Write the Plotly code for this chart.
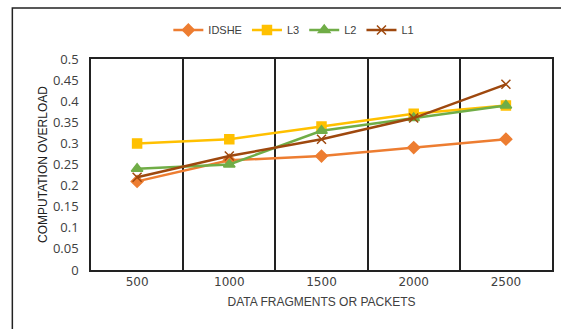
import plotly.graph_objects as go

# Data
packets = ["500", "1000", "1500", "2000", "2500"]
idshe = [0.21, 0.26, 0.27, 0.29, 0.31]
l3 = [0.30, 0.31, 0.34, 0.37, 0.39]
l2 = [0.24, 0.25, 0.33, 0.36, 0.39]
l1 = [0.22, 0.27, 0.31, 0.36, 0.44]

series = [
    ("IDSHE", idshe, "#ED7D31", "diamond", 9),
    ("L3", l3, "#FFC000", "square", 9),
    ("L2", l2, "#70AD47", "triangle-up", 10),
    ("L1", l1, "#9E480E", "x-thin-open", 9),
]

W, H = 561, 329
ML, MR, MT, MB = 91, 7, 59, 59
PW, PH = W - ML - MR, H - MT - MB

FONT = "Liberation Sans, Arial, sans-serif"

fig = go.Figure()
for name, vals, color, sym, size in series:
    fig.add_trace(go.Scatter(
        x=packets, y=vals, name=name, mode="lines+markers",
        line=dict(color=color, width=2.5),
        marker=dict(symbol=sym, size=size, color=color,
                    line=dict(color=color, width=1.5)),
    ))

# outer chart frame (extends past the right and bottom edges)
def px_to_paper_x(px):
    return (px - ML) / PW

def px_to_paper_y(py):
    return (H - MB - py) / PH

fig.add_shape(type="rect", xref="paper", yref="paper",
              x0=px_to_paper_x(12), x1=px_to_paper_x(575),
              y0=px_to_paper_y(345), y1=px_to_paper_y(8),
              line=dict(color="#222222", width=1.5), fillcolor="rgba(0,0,0,0)",
              layer="below")

fig.update_layout(
    width=W, height=H,
    margin=dict(l=ML, r=MR, t=MT, b=MB),
    paper_bgcolor="white", plot_bgcolor="white",
    font=dict(family=FONT, size=12, color="#404040"),
    showlegend=True,
    legend=dict(orientation="h", x=0.44, xanchor="center", y=px_to_paper_y(30),
                yanchor="middle", font=dict(size=11, color="#404040"),
                itemwidth=30, tracegroupgap=0),
    xaxis=dict(
        type="category", range=[-0.5, 4.5], tickson="boundaries", showgrid=True,
        gridcolor="#222222", gridwidth=1.5,
        showline=True, linecolor="#222222", linewidth=1.5, mirror=True,
        ticks="outside", ticklen=8, tickcolor="rgba(0,0,0,0)",
        tickfont=dict(family="DejaVu Sans, sans-serif", size=12, color="#404040"),
        title=dict(text="DATA FRAGMENTS OR PACKETS", standoff=9,
                   font=dict(size=12, color="#404040")),
    ),
    yaxis=dict(
        range=[0, 0.5], dtick=0.05, showgrid=False, zeroline=False,
        showline=True, linecolor="#222222", linewidth=1.5, mirror=True,
        ticks="outside", ticklen=8, tickcolor="rgba(0,0,0,0)",
        tickfont=dict(family="Open Sans, sans-serif", size=13, color="#404040"),
        title=dict(text="COMPUTATION OVERLOAD", standoff=3,
                   font=dict(size=12, color="#202020")),
    ),
)

fig.write_html("out.html")
